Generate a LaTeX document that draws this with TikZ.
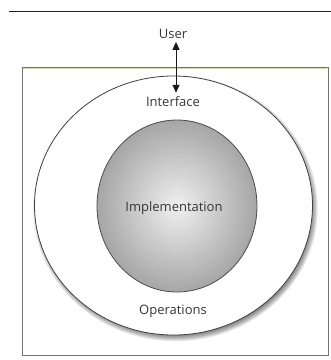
\documentclass[tikz,border=0pt]{standalone}
\usepackage{fontspec}
\setmainfont{Open Sans}
\usetikzlibrary{arrows.meta}
\definecolor{txt}{HTML}{363636}
\tikzset{
  lbl/.style={font=\fontsize{13}{15}\selectfont, text=txt, inner sep=1pt},
  shadowlayer/.style={fill=black, fill opacity=0.045},
  core/.style={inner color=white!94!black, outer color=black!35},
  link/.style={{Triangle[length=8pt,width=7pt]}-{Triangle[length=8pt,width=7pt]}, line width=0.9pt, black!90}
}
\begin{document}
\begin{tikzpicture}[x=1pt,y=-1pt]
\useasboundingbox (0,0) rectangle (331,360);
\fill[white] (0,0) rectangle (331,360);
\draw[line width=1pt, color={rgb,255:red,30;green,30;blue,70}] (9,11) -- (331,11);
\draw[line width=0.6pt, black!55] (22,355) -- (22,67) -- (328,67) -- (328,355) -- cycle;
\draw[line width=0.8pt, color={rgb,255:red,220;green,220;blue,150}] (23,68) -- (327,68);
\foreach \d in {0.5,1.0,...,7.5}
  \fill[shadowlayer] (175.5,208.5) ellipse [x radius=135+\d, y radius=125.5+\d];
\fill[white] (173.5,205.5) ellipse [x radius=139, y radius=129.5];
\draw[black!75, line width=0.8pt] (173.5,205.5) ellipse [x radius=139, y radius=129.5];
\shade[core] (177,206) ellipse [x radius=80, y radius=86];
\draw[black!70, line width=0.8pt] (177,206) ellipse [x radius=80, y radius=86];
\node[lbl] (user) at (173,34) {User};
\node[lbl] (iface) at (173,102) {Interface};
\node[lbl] (impl) at (174,208) {Implementation};
\node[lbl] (ops) at (173,311) {Operations};
\coordinate (a) at ([xshift=3pt,yshift=-2pt]user.south);
\coordinate (b) at ([xshift=3pt,yshift=3pt]iface.north);
\draw[link] (a) -- (b);
\end{tikzpicture}
\end{document}
